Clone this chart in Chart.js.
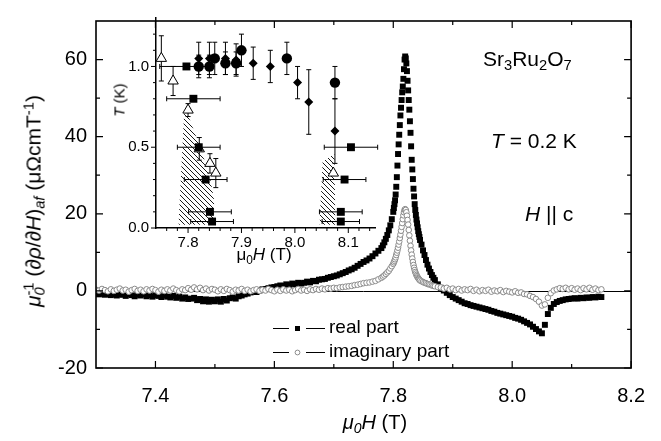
<!DOCTYPE html>
<html>
<head>
<meta charset="utf-8">
<script src="https://cdn.jsdelivr.net/npm/chart.js@4.4.1/dist/chart.umd.min.js"></script>
<style>
body { margin: 0; background: #fff; }
#wrap { position: relative; width: 661px; height: 441px; font-family: "Liberation Sans", Arial, sans-serif; color: #000; }
canvas { position: absolute; left: 0; top: 0; }
.t { position: absolute; white-space: nowrap; line-height: 1; }
.t sub, .t sup { font-size: 0.7em; line-height: 0; position: relative; vertical-align: baseline; }
.t sub { top: 0.3em; }
.t sup { top: -0.5em; }
</style>
</head>
<body>
<div id="wrap">
<canvas id="mainChart" width="661" height="441"></canvas>
<canvas id="insetChart" width="661" height="441"></canvas>

<div class="t" style="left:33px; top:201px; font-size:21px; transform:translate(-50%,-50%) rotate(-90deg);"><i>μ</i><sub><i>0</i></sub><sup style="margin-left:-0.56em">-1</sup> (<i>∂ρ</i>/<i>∂H</i>)<sub><i>af</i></sub> (μΩcmT<sup>-1</sup>)</div>
<div class="t" style="left:375px; top:412px; font-size:20px; transform:translateX(-50%);"><i>μ</i><sub><i>0</i></sub><i>H</i> (T)</div>

<div class="t" style="left:483px; top:48px; font-size:21px;">Sr<sub>3</sub>Ru<sub>2</sub>O<sub>7</sub></div>
<div class="t" style="left:491px; top:130px; font-size:21px;"><i>T</i> = 0.2 K</div>
<div class="t" style="left:525px; top:203px; font-size:21px;"><i>H</i> || c</div>

<div class="t" style="left:119px; top:100px; font-size:15px; transform:translate(-50%,-50%) rotate(-90deg);"><i>T</i> (K)</div>
<div class="t" style="left:264px; top:246px; font-size:17px; transform:translateX(-50%);">μ<sub>0</sub><i>H</i> (T)</div>
</div>

<script>
// field sweep (T) and the real / imaginary part of mu0^-1 (drho/dH)_af
var fieldT = [
    7.300, 7.305, 7.310, 7.315, 7.320, 7.325, 7.330, 7.335, 7.340, 7.345,
    7.350, 7.355, 7.360, 7.365, 7.370, 7.375, 7.380, 7.385, 7.390, 7.395,
    7.400, 7.405, 7.410, 7.415, 7.420, 7.425, 7.430, 7.435, 7.440, 7.445,
    7.450, 7.455, 7.460, 7.465, 7.470, 7.475, 7.480, 7.485, 7.490, 7.495,
    7.500, 7.505, 7.510, 7.515, 7.520, 7.525, 7.530, 7.535, 7.540, 7.545,
    7.550, 7.555, 7.560, 7.565, 7.570, 7.575, 7.580, 7.585, 7.590, 7.595,
    7.600, 7.605, 7.610, 7.615, 7.620, 7.625, 7.630, 7.635, 7.640, 7.645,
    7.650, 7.655, 7.660, 7.665, 7.670, 7.675, 7.680, 7.685, 7.690, 7.695,
    7.700, 7.705, 7.710, 7.715, 7.720, 7.725, 7.730, 7.735, 7.740, 7.745,
    7.750, 7.755, 7.760, 7.765, 7.770, 7.775, 7.780,
    7.7825, 7.785, 7.7875, 7.790, 7.7925, 7.795, 7.7975,
    7.800, 7.801, 7.802, 7.803, 7.804, 7.805, 7.806, 7.807, 7.808, 7.809,
    7.810, 7.811, 7.812, 7.813, 7.814, 7.815, 7.816, 7.817, 7.818, 7.819,
    7.820, 7.821, 7.822, 7.823, 7.824, 7.825, 7.826, 7.827, 7.828, 7.829,
    7.830, 7.831, 7.832, 7.833, 7.834, 7.835, 7.836, 7.837, 7.838, 7.839,
    7.840, 7.841, 7.842, 7.843, 7.844, 7.845,
    7.8475, 7.850, 7.8525, 7.855, 7.8575, 7.860, 7.8625, 7.865, 7.8675, 7.870,
    7.875, 7.880, 7.885, 7.890, 7.895, 7.900, 7.905, 7.910, 7.915, 7.920,
    7.925, 7.930, 7.935, 7.940, 7.945, 7.950, 7.955, 7.960, 7.965, 7.970,
    7.975, 7.980, 7.985, 7.990, 7.995, 8.000, 8.005, 8.010, 8.015, 8.020,
    8.025, 8.030, 8.035, 8.040, 8.045, 8.050, 8.055, 8.060, 8.065, 8.070,
    8.075, 8.080, 8.085, 8.090, 8.095, 8.100, 8.105, 8.110, 8.115, 8.120,
    8.125, 8.130, 8.135, 8.140, 8.145, 8.150
];
var realPart = [
    -0.6, -0.9, -0.6, -1.0, -0.8, -1.1, -0.8, -1.2, -0.9, -1.0,
    -1.3, -0.9, -1.1, -1.4, -1.0, -1.2, -0.9, -1.4, -1.1, -1.5,
    -1.1, -1.3, -1.6, -1.2, -1.5, -1.7, -1.3, -1.8, -1.5, -2.0,
    -1.7, -2.1, -2.0, -1.8, -2.4, -2.1, -2.7, -2.2, -2.8, -2.3,
    -2.7, -2.2, -2.8, -2.1, -2.5, -1.9, -1.7, -2.0, -1.4, -1.2,
    -0.9, -0.7, -0.4, -0.2, -0.3, 0.1, 0.4, 0.5, 0.7, 0.9,
    1.0, 1.2, 1.4, 1.3, 1.7, 1.5, 1.9, 1.7, 2.1, 1.9,
    2.1, 2.4, 2.2, 2.6, 2.5, 2.9, 3.0, 3.1, 3.4, 3.6,
    3.8, 4.0, 4.3, 4.6, 4.9, 5.3, 5.6, 6.0, 6.5, 7.0,
    7.5, 7.9, 8.4, 9.0, 9.7, 10.4, 11.1,
    11.8, 12.6, 13.5, 14.5, 15.7, 17.0, 18.6,
    20.5, 21.5, 22.5, 23.5, 25.0, 27.0, 29.5, 32.5, 35.5, 38.0,
    40.5, 43.0, 45.5, 47.5, 49.5, 51.5, 53.0, 55.0, 57.5, 60.0,
    60.8, 60.3, 59.0, 57.0, 54.5, 52.0, 49.5, 47.0, 44.0, 41.0,
    37.5, 34.0, 31.5, 29.0, 26.5, 24.5, 22.5, 21.0, 19.7, 18.5,
    17.5, 16.5, 15.5, 14.7, 14.0, 13.2,
    12.0, 10.5, 9.3, 8.0, 6.8, 5.8, 4.9, 4.1, 3.4, 2.8,
    1.7, 0.8, 0.1, -0.5, -1.1, -1.6, -2.0, -2.4, -2.8, -3.2,
    -3.4, -3.7, -3.9, -4.1, -4.3, -4.5, -4.7, -4.9, -5.2, -5.4,
    -5.7, -5.9, -6.1, -6.3, -6.5, -6.7, -7.0, -7.2, -7.5, -7.9,
    -8.3, -8.7, -9.3, -9.9, -10.5, -11.0, -8.8, -6.0, -4.4, -3.4,
    -2.9, -2.6, -2.4, -2.2, -2.1, -2.0, -1.9, -2.0, -1.8, -1.9,
    -1.7, -1.8, -1.6, -1.7, -1.5, -1.6
];
var imagPart = [
    0.3, 0.1, 0.5, 0.2, -0.1, 0.4, 0.0, 0.3, 0.6, 0.1,
    0.3, -0.2, 0.2, 0.5, 0.0, 0.3, -0.1, 0.4, 0.1, 0.5,
    0.2, -0.2, 0.3, 0.0, 0.4, 0.1, 0.6, 0.2, -0.1, 0.4,
    0.2, 0.7, 0.3, 0.9, 0.4, 0.8, 0.2, 0.6, 0.1, 0.5,
    0.3, -0.1, 0.4, 0.0, 0.5, 0.2, -0.2, 0.3, 0.1, 0.5,
    0.0, 0.3, -0.1, 0.2, 0.4, 0.0, 0.3, 0.1, 0.5, 0.2,
    -0.1, 0.3, 0.0, 0.4, 0.1, 0.3, -0.1, 0.2, 0.5, 0.1,
    0.3, 0.0, 0.4, 0.2, 0.5, 0.3, 0.6, 0.4, 0.7, 0.6,
    0.8, 0.7, 0.9, 1.0, 1.1, 1.2, 1.3, 1.5, 1.6, 1.8,
    2.0, 2.1, 2.2, 2.4, 2.6, 3.0, 3.4,
    3.7, 4.0, 4.4, 4.8, 5.2, 5.8, 6.4,
    7.0, 7.4, 7.8, 8.2, 8.7, 9.3, 9.9, 10.5, 11.2, 12.0,
    12.8, 13.7, 14.6, 15.6, 16.6, 17.6, 18.6, 19.6, 20.4, 21.0,
    21.2, 21.0, 20.4, 19.5, 18.4, 17.2, 15.8, 14.4, 13.0, 11.7,
    10.5, 9.4, 8.4, 7.5, 6.7, 6.0, 5.4, 4.9, 4.5, 4.1,
    3.8, 3.5, 3.3, 3.1, 2.9, 2.7,
    2.5, 2.3, 2.1, 2.0, 1.8, 1.7, 1.6, 1.4, 1.3, 1.2,
    1.0, 0.9, 0.6, 0.8, 0.4, 0.6, 0.2, 0.5, 0.1, 0.4,
    0.2, 0.5, 0.0, 0.3, -0.1, 0.2, 0.0, 0.3, -0.2, 0.1,
    -0.1, 0.2, -0.3, 0.0, -0.2, -0.4, -0.1, -0.5, -0.4, -0.8,
    -0.9, -1.3, -1.6, -2.1, -2.8, -3.8, -3.5, -1.8, -0.6, 0.1,
    0.4, 0.7, 0.5, 0.8, 0.4, 0.7, 0.3, 0.6, 0.2, 0.7,
    0.4, 0.8, 0.3, 0.6, 0.2, 0.4
];

var mainXTicks = [7.4, 7.6, 7.8, 8.0, 8.2];
var mainXMinor = [7.5, 7.7, 7.9, 8.1];
var mainYTicks = [-20, 0, 20, 40, 60];
var mainYMinor = [-10, 10, 30, 50];

// inset: T (K) vs mu0H (T)
var circleH = [7.820, 7.840, 7.850, 7.870, 7.890, 7.900, 7.985, 8.075];
var circleT = [1.00, 1.00, 1.05, 1.02, 1.02, 1.10, 1.05, 0.90];
var circleErr = [0.07, 0.07, 0.10, 0.07, 0.07, 0.10, 0.10, 0.10];

var diamondH = [7.820, 7.840, 7.870, 7.890, 7.922, 7.954, 8.005, 8.026, 8.075];
var diamondT = [1.05, 1.05, 1.05, 1.04, 1.02, 1.00, 0.90, 0.78, 0.60];
var diamondErr = [0.10, 0.10, 0.10, 0.10, 0.10, 0.10, 0.10, 0.20, 0.20];

var triangleH = [7.750, 7.772, 7.800, 7.821, 7.841, 7.852, 8.072];
var triangleT = [1.05, 0.91, 0.73, 0.49, 0.40, 0.34, 0.34];
var triangleErr = [0.14, 0.09, 0.04, 0.07, 0.06, 0.09, 0];

var squareH = [7.797, 7.810, 7.820, 7.833, 7.841, 7.845, 8.105, 8.093, 8.086, 8.086];
var squareT = [1.00, 0.80, 0.50, 0.30, 0.10, 0.04, 0.50, 0.30, 0.10, 0.04];
var squareErr = [0.05, 0.05, 0.04, 0.04, 0.04, 0.04, 0.05, 0.04, 0.04, 0.035];

var hatchLeftH = [7.782, 7.793, 7.800, 7.825, 7.842, 7.849, 7.849];
var hatchLeftT = [0.02, 0.73, 0.70, 0.48, 0.30, 0.17, 0.02];
var hatchRightH = [8.046, 8.052, 8.074, 8.076];
var hatchRightT = [0.02, 0.41, 0.46, 0.02];

var insetXTicks = [7.8, 7.9, 8.0, 8.1];
var insetXMinor = [7.76, 7.78, 7.82, 7.84, 7.86, 7.88, 7.92, 7.94, 7.96, 7.98, 8.02, 8.04, 8.06, 8.08, 8.12, 8.14];
var insetYTicks = [0, 0.5, 1.0];
var insetYMinor = [0.1, 0.2, 0.3, 0.4, 0.6, 0.7, 0.8, 0.9, 1.1, 1.2];

Chart.defaults.font.family = '"Liberation Sans", Arial, sans-serif';
Chart.defaults.color = '#000';

function pts(xs, ys) {
    return xs.map(function (h, i) { return { x: h, y: ys[i] }; });
}

function hatchPattern() {
    var c = document.createElement('canvas');
    c.width = 5; c.height = 5;
    var g = c.getContext('2d');
    g.strokeStyle = '#000';
    g.lineWidth = 0.9;
    g.beginPath();
    g.moveTo(-1, -1); g.lineTo(6, 6);
    g.moveTo(-1, 4); g.lineTo(1, 6);
    g.moveTo(4, -1); g.lineTo(6, 1);
    g.stroke();
    return g.createPattern(c, 'repeat');
}

// frame, inward ticks, zero line and legend of the main plot
var mainDeco = {
    id: 'mainDeco',
    beforeDatasetsDraw: function (chart) {
        var ctx = chart.ctx, a = chart.chartArea;
        var y0 = Math.round(chart.scales.y.getPixelForValue(0)) + 0.5;
        ctx.save();
        ctx.strokeStyle = '#000';
        ctx.lineWidth = 1;
        ctx.beginPath();
        ctx.moveTo(a.left, y0);
        ctx.lineTo(a.right, y0);
        ctx.stroke();
        ctx.restore();
    },
    afterDraw: function (chart) {
        var ctx = chart.ctx, a = chart.chartArea;
        var x = chart.scales.x, y = chart.scales.y;
        ctx.save();
        ctx.strokeStyle = '#000';
        ctx.lineWidth = 1.2;
        ctx.beginPath();
        function xt(v, len) {
            var p = x.getPixelForValue(v);
            ctx.moveTo(p, a.bottom); ctx.lineTo(p, a.bottom - len);
            ctx.moveTo(p, a.top); ctx.lineTo(p, a.top + len);
        }
        function yt(v, len) {
            var p = y.getPixelForValue(v);
            ctx.moveTo(a.left, p); ctx.lineTo(a.left + len, p);
            ctx.moveTo(a.right, p); ctx.lineTo(a.right - len, p);
        }
        mainXTicks.forEach(function (v) { xt(v, 7); });
        mainXMinor.forEach(function (v) { xt(v, 4); });
        mainYTicks.forEach(function (v) { yt(v, 7); });
        mainYMinor.forEach(function (v) { yt(v, 4); });
        ctx.stroke();
        ctx.lineWidth = 1.6;
        ctx.strokeRect(a.left, a.top, a.right - a.left, a.bottom - a.top);

        // legend: line - marker - line, then the label
        ctx.font = '19px "Liberation Sans", Arial, sans-serif';
        ctx.textBaseline = 'middle';
        var rows = [
            { y: 328, label: 'real part', real: true },
            { y: 352, label: 'imaginary part', real: false }
        ];
        rows.forEach(function (r) {
            ctx.lineWidth = 1;
            ctx.strokeStyle = '#000';
            ctx.beginPath();
            ctx.moveTo(273, r.y + 0.5); ctx.lineTo(289, r.y + 0.5);
            ctx.moveTo(306, r.y + 0.5); ctx.lineTo(325, r.y + 0.5);
            ctx.stroke();
            if (r.real) {
                ctx.fillStyle = '#000';
                ctx.fillRect(295, r.y - 2, 5, 5);
            } else {
                ctx.fillStyle = '#fff';
                ctx.strokeStyle = '#8a8a8a';
                ctx.beginPath();
                ctx.arc(297.5, r.y + 0.5, 2.4, 0, Math.PI * 2);
                ctx.fill();
                ctx.stroke();
            }
            ctx.fillStyle = '#000';
            ctx.fillText(r.label, 329, r.y);
        });
        ctx.restore();
    }
};

new Chart(document.getElementById('mainChart').getContext('2d'), {
    type: 'scatter',
    data: {
        datasets: [
            {
                label: 'imaginary part',
                data: pts(fieldT, imagPart),
                pointStyle: 'circle',
                pointRadius: 2.8,
                pointBackgroundColor: '#fff',
                pointBorderColor: '#8a8a8a',
                pointBorderWidth: 1,
                order: 1
            },
            {
                label: 'real part',
                data: pts(fieldT, realPart),
                pointStyle: 'rect',
                pointRadius: 4.2,
                pointBackgroundColor: '#000',
                pointBorderColor: '#000',
                pointBorderWidth: 0,
                order: 2
            }
        ]
    },
    options: {
        responsive: false,
        devicePixelRatio: 1,
        animation: false,
        events: [],
        layout: { padding: { left: 0, top: 9, right: 28, bottom: 0 } },
        plugins: { legend: { display: false }, tooltip: { enabled: false } },
        scales: {
            x: {
                type: 'linear',
                min: 7.3,
                max: 8.2,
                grid: { display: false, drawTicks: false },
                border: { display: false },
                afterBuildTicks: function (s) { s.ticks = mainXTicks.map(function (v) { return { value: v }; }); },
                afterFit: function (s) { s.height = 73; },
                ticks: {
                    font: { size: 20 },
                    padding: 16,
                    maxRotation: 0,
                    callback: function (v) { return Number(v).toFixed(1); }
                }
            },
            y: {
                type: 'linear',
                min: -20,
                max: 70,
                grid: { display: false, drawTicks: false },
                border: { display: false },
                afterBuildTicks: function (s) { s.ticks = mainYTicks.map(function (v) { return { value: v }; }); },
                afterFit: function (s) { s.width = 96; },
                ticks: {
                    font: { size: 20 },
                    padding: 9,
                    callback: function (v) { return String(v); }
                }
            }
        }
    },
    plugins: [mainDeco]
});

// error bars and outward ticks of the inset
function drawErrorBars(chart) {
    var ctx = chart.ctx, x = chart.scales.x, y = chart.scales.y, cap = 2.5;
    ctx.save();
    ctx.strokeStyle = '#000';
    ctx.lineWidth = 1;
    ctx.beginPath();
    function vbar(h, t, e) {
        if (!e) return;
        var px = x.getPixelForValue(h), p1 = y.getPixelForValue(t - e), p2 = y.getPixelForValue(t + e);
        ctx.moveTo(px, p1); ctx.lineTo(px, p2);
        ctx.moveTo(px - cap, p1); ctx.lineTo(px + cap, p1);
        ctx.moveTo(px - cap, p2); ctx.lineTo(px + cap, p2);
    }
    function hbar(h, t, e) {
        if (!e) return;
        var py = y.getPixelForValue(t), p1 = x.getPixelForValue(h - e), p2 = x.getPixelForValue(h + e);
        ctx.moveTo(p1, py); ctx.lineTo(p2, py);
        ctx.moveTo(p1, py - cap); ctx.lineTo(p1, py + cap);
        ctx.moveTo(p2, py - cap); ctx.lineTo(p2, py + cap);
    }
    circleH.forEach(function (h, i) { vbar(h, circleT[i], circleErr[i]); });
    diamondH.forEach(function (h, i) { vbar(h, diamondT[i], diamondErr[i]); });
    triangleH.forEach(function (h, i) { vbar(h, triangleT[i], triangleErr[i]); });
    squareH.forEach(function (h, i) { hbar(h, squareT[i], squareErr[i]); });
    ctx.stroke();
    ctx.restore();
}

var insetDeco = {
    id: 'insetDeco',
    beforeDatasetsDraw: function (chart) { chart.$barsDone = false; },
    beforeDatasetDraw: function (chart, args) {
        if (chart.$barsDone) return;
        if (chart.data.datasets[args.index].type === 'line') return;
        drawErrorBars(chart);
        chart.$barsDone = true;
    },
    afterDraw: function (chart) {
        var ctx = chart.ctx, a = chart.chartArea;
        var x = chart.scales.x, y = chart.scales.y;
        ctx.save();
        ctx.strokeStyle = '#000';
        ctx.lineWidth = 1;
        ctx.beginPath();
        insetXTicks.forEach(function (v) { var p = x.getPixelForValue(v); ctx.moveTo(p, a.bottom); ctx.lineTo(p, a.bottom + 5); });
        insetXMinor.forEach(function (v) { var p = x.getPixelForValue(v); ctx.moveTo(p, a.bottom); ctx.lineTo(p, a.bottom + 3); });
        insetYTicks.forEach(function (v) { var p = y.getPixelForValue(v); ctx.moveTo(a.left, p); ctx.lineTo(a.left - 5, p); });
        insetYMinor.forEach(function (v) { var p = y.getPixelForValue(v); ctx.moveTo(a.left, p); ctx.lineTo(a.left - 3, p); });
        ctx.stroke();
        ctx.restore();
    }
};

var hatch = hatchPattern();

new Chart(document.getElementById('insetChart').getContext('2d'), {
    type: 'scatter',
    data: {
        datasets: [
            {
                type: 'line',
                data: pts(hatchLeftH, hatchLeftT),
                borderWidth: 0,
                pointRadius: 0,
                backgroundColor: hatch,
                fill: { value: 0.02 },
                tension: 0,
                order: 10
            },
            {
                type: 'line',
                data: pts(hatchRightH, hatchRightT),
                borderWidth: 0,
                pointRadius: 0,
                backgroundColor: hatch,
                fill: { value: 0.02 },
                tension: 0,
                order: 11
            },
            {
                data: pts(triangleH, triangleT),
                pointStyle: 'triangle',
                pointRadius: 6,
                pointBackgroundColor: '#fff',
                pointBorderColor: '#000',
                pointBorderWidth: 1,
                clip: false,
                order: 4
            },
            {
                data: pts(diamondH, diamondT),
                pointStyle: 'rectRot',
                pointRadius: 4.5,
                pointBackgroundColor: '#000',
                pointBorderColor: '#000',
                pointBorderWidth: 0,
                clip: false,
                order: 3
            },
            {
                data: pts(circleH, circleT),
                pointStyle: 'circle',
                pointRadius: 5.2,
                pointBackgroundColor: '#000',
                pointBorderColor: '#000',
                pointBorderWidth: 0,
                clip: false,
                order: 2
            },
            {
                data: pts(squareH, squareT),
                pointStyle: 'rect',
                pointRadius: 5.6,
                pointBackgroundColor: '#000',
                pointBorderColor: '#000',
                pointBorderWidth: 0,
                clip: false,
                order: 1
            }
        ]
    },
    options: {
        responsive: false,
        devicePixelRatio: 1,
        animation: false,
        events: [],
        layout: { padding: { left: 100, top: 18, right: 286, bottom: 173 } },
        plugins: { legend: { display: false }, tooltip: { enabled: false } },
        scales: {
            x: {
                type: 'linear',
                min: 7.74,
                max: 8.15,
                grid: { display: false, drawTicks: false },
                border: { display: true, color: '#000', width: 1.5 },
                afterBuildTicks: function (s) { s.ticks = insetXTicks.map(function (v) { return { value: v }; }); },
                afterFit: function (s) { s.height = 40; },
                ticks: {
                    font: { size: 15 },
                    padding: 6,
                    maxRotation: 0,
                    callback: function (v) { return Number(v).toFixed(1); }
                }
            },
            y: {
                type: 'linear',
                min: 0,
                max: 1.3,
                grid: { display: false, drawTicks: false },
                border: { display: true, color: '#000', width: 1.5 },
                afterBuildTicks: function (s) { s.ticks = insetYTicks.map(function (v) { return { value: v }; }); },
                afterFit: function (s) { s.width = 56; },
                ticks: {
                    font: { size: 15 },
                    padding: 7,
                    callback: function (v) { return Number(v).toFixed(1); }
                }
            }
        }
    },
    plugins: [insetDeco]
});
</script>
</body>
</html>
